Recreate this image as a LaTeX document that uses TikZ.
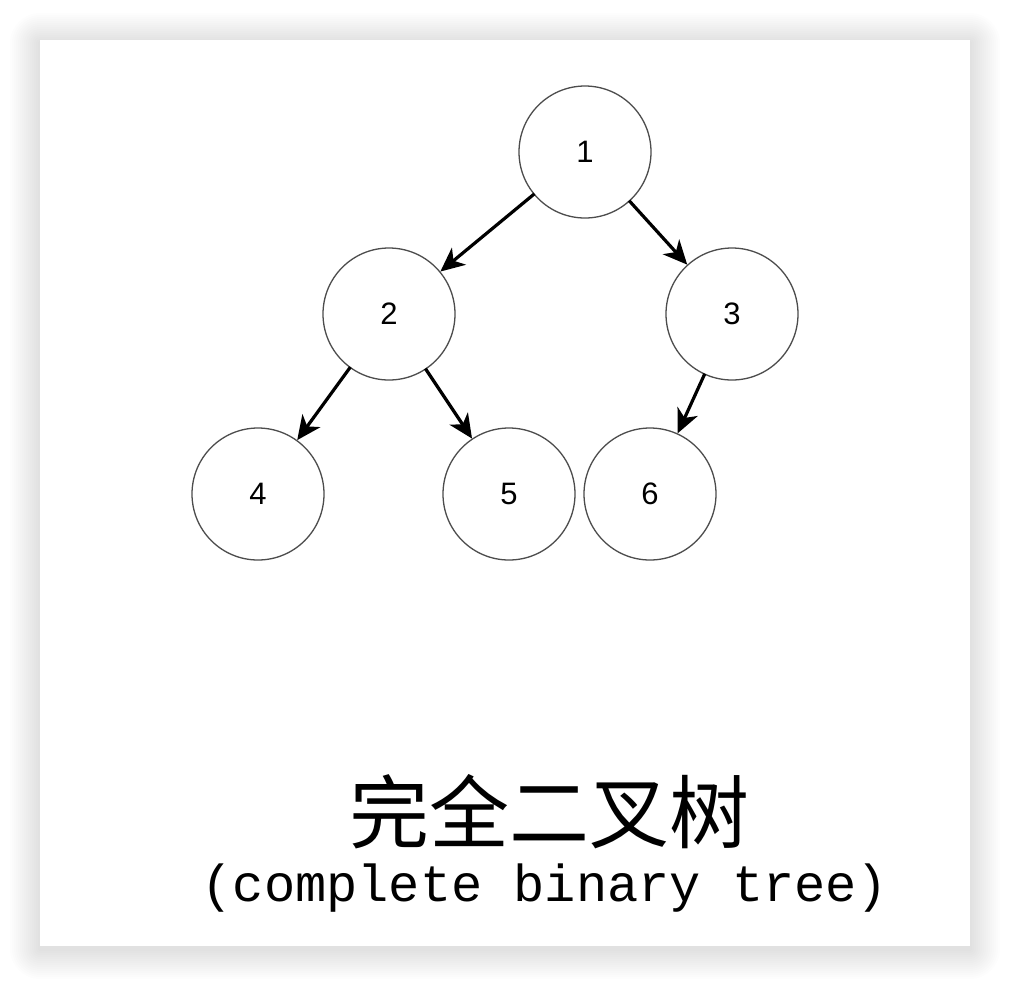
\documentclass[tikz,border=0pt]{standalone}
\usepackage{fontspec}
\setmainfont{Liberation Sans}
\newfontfamily\cjk{Noto Sans CJK SC}
\newfontfamily\mono{Liberation Mono}
\usetikzlibrary{arrows.meta}
\begin{document}
\begin{tikzpicture}[x=1pt,y=-1pt,
  tnode/.style={circle,draw=black!70,line width=1.3pt,minimum size=132pt,inner sep=0pt,font=\fontsize{31}{31}\selectfont},
  edge/.style={line width=3.2pt,-{Stealth[length=24pt,width=22pt,inset=7pt]},shorten <=-1pt}]
\useasboundingbox (0,0) rectangle (1010,986);
\fill[white] (0,0) rectangle (1010,986);
% shadow
\foreach \d in {2,4,...,30}{
  \fill[black,opacity=0.006,rounded corners=\d pt] (40-\d,40-\d+3) rectangle (970+\d,946+\d+3);
}
\fill[white] (40,40) rectangle (970,946);
\node[tnode] (n1) at (585,152) {1};
\node[tnode] (n2) at (389,314) {2};
\node[tnode] (n3) at (732,314) {3};
\node[tnode] (n4) at (258,494) {4};
\node[tnode] (n5) at (509,494) {5};
\node[tnode] (n6) at (650,494) {6};
\draw[edge] (n1) -- (n2);
\draw[edge] (n1) -- (n3);
\draw[edge] (n2) -- (n4);
\draw[edge] (n2) -- (n5);
\draw[edge] (n3) -- (n6);
\node[font=\cjk\fontsize{80}{80}\selectfont] (t1) at (549,812) {完全二叉树};
\node[font=\mono\fontsize{52}{52}\selectfont] (t2) at (545,888) {(complete binary tree)};
\end{tikzpicture}
\end{document}
